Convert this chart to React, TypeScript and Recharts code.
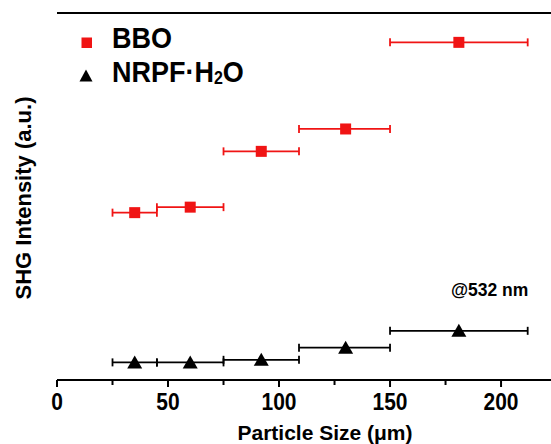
import React from 'react';
import { ScatterChart, Scatter, XAxis, YAxis, ErrorBar, ReferenceLine } from 'recharts';

// particle size bins (µm): centre, lower and upper edge
const sizes = [35, 60, 92, 130, 181];
const sizeLow = [25, 45, 75, 109, 150];
const sizeHigh = [45, 75, 109, 150, 212];

// SHG intensity (a.u.)
const bboIntensity = [45.6, 47.1, 62.3, 68.4, 92.0];
const nrpfIntensity = [4.8, 4.8, 5.5, 8.8, 13.4];

const xTicks = [0, 25, 50, 75, 100, 125, 150, 175, 200];
const xLabelTicks = [0, 50, 100, 150, 200];

const RED = '#f01414';
const FONT = 'Arial, "Liberation Sans", Helvetica, sans-serif';

const build = (vals: number[]) =>
  sizes.map((x, i) => ({
    x,
    y: vals[i],
    err: [x - sizeLow[i], sizeHigh[i] - x],
  }));

const bboData = build(bboIntensity);
const nrpfData = build(nrpfIntensity);

const SquareDot = (props: any) => {
  const { cx, cy } = props;
  const s = 11;
  return <rect x={cx - s / 2} y={cy - s / 2} width={s} height={s} fill={RED} />;
};

const TriangleDot = (props: any) => {
  const { cx, cy } = props;
  return (
    <polygon
      points={`${cx},${cy - 7} ${cx - 7.5},${cy + 6} ${cx + 7.5},${cy + 6}`}
      fill="#000"
    />
  );
};

const XTick = (props: any) => {
  const { x, y, payload } = props;
  const major = xLabelTicks.includes(payload.value);
  return (
    <g>
      <line x1={x} y1={y} x2={x} y2={y + (major ? 7 : 5)} stroke="#000" strokeWidth={2} />
      {major && (
        <text
          x={x}
          y={y + 30}
          textAnchor="middle"
          fontFamily={FONT}
          fontWeight="bold"
          fontSize={21}
          fill="#000"
          transform={`translate(0 ${y + 30}) scale(1 1.12) translate(0 ${-(y + 30)})`}
        >
          {payload.value}
        </text>
      )}
    </g>
  );
};

export default function App() {
  return (
    <div style={{ position: 'fixed', left: 0, top: 0, width: 551, height: 444, background: '#fff' }}>
      <ScatterChart width={551} height={444} margin={{ top: 13, right: 0, bottom: 34, left: 57 }}>
        <XAxis
          type="number"
          dataKey="x"
          domain={[0, 222.5]}
          ticks={xTicks}
          interval={0}
          allowDataOverflow
          height={30}
          tickSize={0}
          tickMargin={0}
          tickLine={false}
          tick={<XTick />}
          axisLine={{ stroke: '#000', strokeWidth: 2 }}
        />
        <YAxis
          type="number"
          dataKey="y"
          domain={[0, 100]}
          width={0}
          tick={false}
          tickLine={false}
          axisLine={{ stroke: '#000', strokeWidth: 2 }}
        />
        <ReferenceLine y={100} stroke="#000" strokeWidth={2} ifOverflow="visible" />
        <Scatter data={bboData} shape={<SquareDot />} isAnimationActive={false}>
          <ErrorBar dataKey="err" direction="x" width={4} stroke={RED} strokeWidth={1.8} />
        </Scatter>
        <Scatter data={nrpfData} shape={<TriangleDot />} isAnimationActive={false}>
          <ErrorBar dataKey="err" direction="x" width={4} stroke="#000" strokeWidth={1.8} />
        </Scatter>
      </ScatterChart>
      <svg
        width={551}
        height={444}
        style={{ position: 'absolute', left: 0, top: 0, pointerEvents: 'none' }}
        fontFamily={FONT}
        fontWeight="bold"
      >
        <rect x={81.5} y={37.5} width={10.5} height={10.5} fill={RED} />
        <g transform="translate(0 48) scale(1 1.1) translate(0 -48)">
          <text x={112} y={48} fontSize={27} fill="#000">BBO</text>
        </g>
        <polygon points="86,69.5 79.5,81.5 92.5,81.5" fill="#000" />
        <g transform="translate(0 82) scale(1 1.1) translate(0 -82)">
          <text x={112} y={82} fontSize={27} fill="#000">
            NRPF·H<tspan fontSize={16} dy={2}>2</tspan>
            <tspan dy={-2}>O</tspan>
          </text>
        </g>
        <text x={451} y={296} fontSize={17.5} fill="#000">@532 nm</text>
        <text x={325} y={440} fontSize={21} textAnchor="middle" fill="#000">
          Particle Size (μm)
        </text>
        <text
          x={31}
          y={198}
          fontSize={22}
          textAnchor="middle"
          fill="#000"
          transform="rotate(-90 31 198)"
        >
          SHG Intensity (a.u.)
        </text>
      </svg>
    </div>
  );
}
